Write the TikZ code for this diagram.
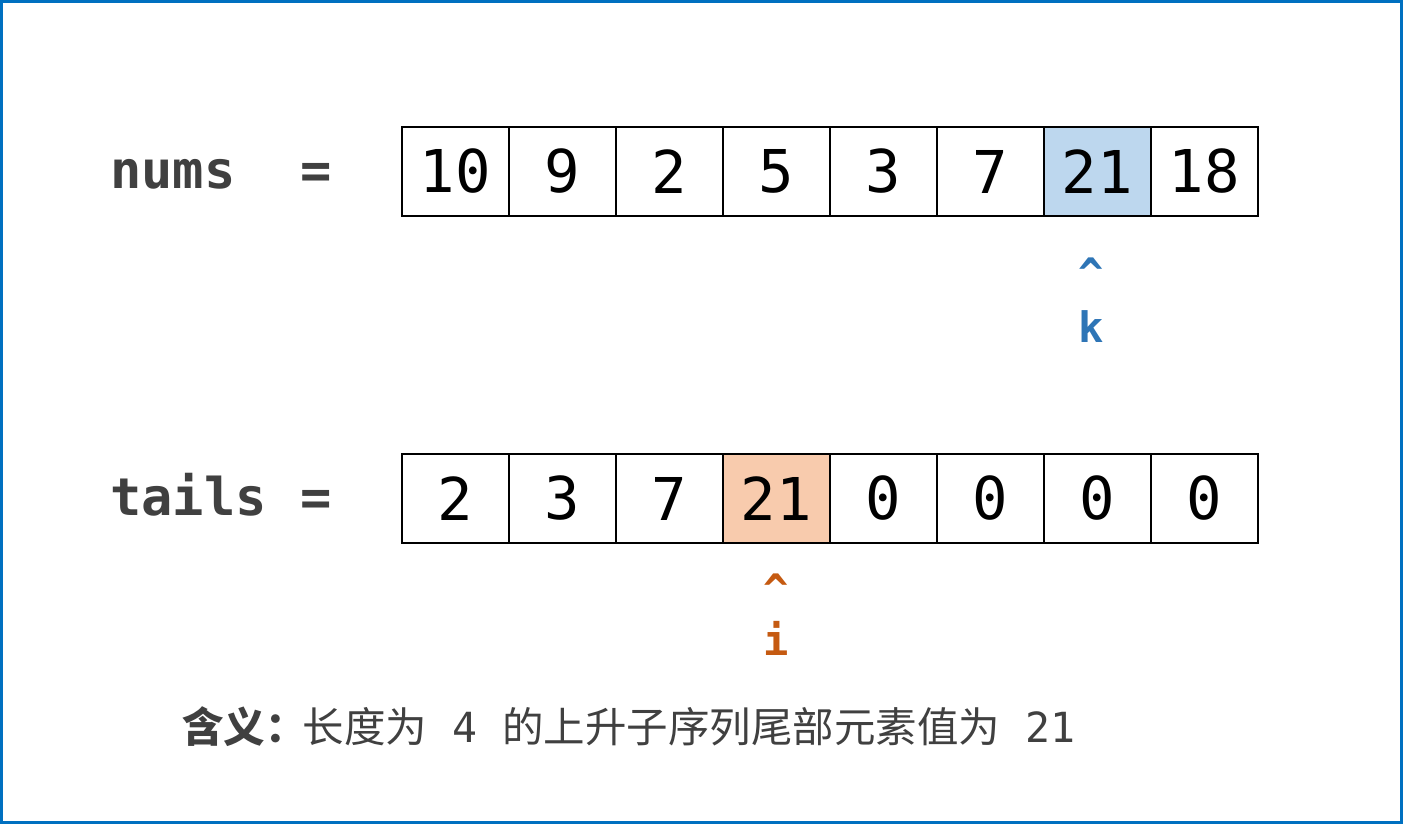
\documentclass[tikz,border=0pt]{standalone}
\usepackage{fontspec}
\newfontfamily\mono{DejaVu Sans Mono}
\newfontfamily\cjk{Noto Sans CJK SC}
\definecolor{frameblue}{HTML}{0070C0}
\definecolor{labgray}{HTML}{404040}
\definecolor{hlblue}{HTML}{BDD7EE}
\definecolor{hlorange}{HTML}{F8CBAD}
\definecolor{ptrblue}{HTML}{2E75B6}
\definecolor{ptrorange}{HTML}{C55A11}
\tikzset{
  cell/.style={draw=black, line width=2pt, minimum width=107pt, minimum height=89pt, inner sep=0pt, font=\mono\fontsize{59}{59}\selectfont, text=black},
  arrlabel/.style={anchor=base west, inner sep=0pt, text=labgray, font=\mono\bfseries\fontsize{52}{52}\selectfont},
  ptr/.style={anchor=base, inner sep=0pt, font=\mono\bfseries\fontsize{42}{42}\selectfont},
}
\begin{document}
\begin{tikzpicture}[x=1pt,y=-1pt]
\useasboundingbox (0,0) rectangle (1403,824);
\fill[white] (0,0) rectangle (1403,824);
\draw[frameblue, line width=3pt] (1.5,1.5) rectangle (1401.5,822.5);
% nums row
\node[arrlabel] (numslab) at (110,188) {nums};
\node[arrlabel] (numseq) at (300,188) {=};
\foreach \v [count=\i from 0] in {10,9,2,5,3,7,21,18} {
  \ifnum\i=6
    \node[cell, fill=hlblue] (n\i) at ({455.5+107*\i},171.5) {\v};
  \else
    \node[cell] (n\i) at ({455.5+107*\i},171.5) {\v};
  \fi
}
% tails row
\node[arrlabel] (tailslab) at (110,515) {tails};
\node[arrlabel] (tailseq) at (300,515) {=};
\foreach \v [count=\i from 0] in {2,3,7,21,0,0,0,0} {
  \ifnum\i=3
    \node[cell, fill=hlorange] (t\i) at ({455.5+107*\i},498.5) {\v};
  \else
    \node[cell] (t\i) at ({455.5+107*\i},498.5) {\v};
  \fi
}
% pointers
\node[ptr, text=ptrblue] (kcaret) at (1091,288) {\char`\^};
\node[ptr, text=ptrblue] (klab) at (1091,342) {k};
\node[ptr, text=ptrorange] (icaret) at (776,604) {\char`\^};
\node[ptr, text=ptrorange] (ilab) at (776,655) {i};
% caption
\node[anchor=base west, inner sep=0pt, text=labgray, font=\cjk\fontsize{41.5}{41.5}\selectfont] (caption) at (182,742)
  {{\bfseries 含义：}\hspace{-4pt}长度为{\mono\ 4\ }的上升子序列尾部元素值为{\mono\ 21}};
\end{tikzpicture}
\end{document}
